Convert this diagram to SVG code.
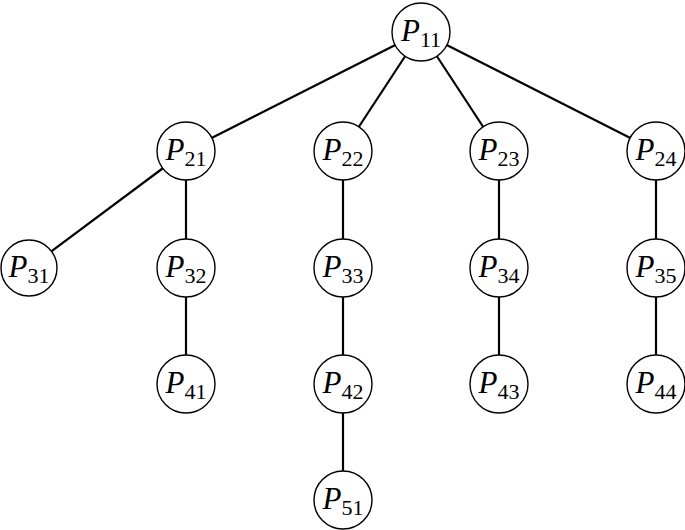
<svg xmlns="http://www.w3.org/2000/svg" width="685" height="530" viewBox="0 0 685 530">
<style>
.n circle{fill:#fff;stroke:#000;stroke-width:1.4}
.e line{stroke:#000;stroke-width:2.2}
text{font-family:"Liberation Serif",serif;fill:#000}
.p{font-style:italic;font-size:31px}
.s{font-size:22px}
</style>
<rect width="685" height="530" fill="#fff"/>
<g id="edges" class="e">
<line x1="421" y1="32" x2="186" y2="151"/>
<line x1="421" y1="32" x2="343" y2="151"/>
<line x1="421" y1="32" x2="499" y2="151"/>
<line x1="421" y1="32" x2="656" y2="151"/>
<line x1="186" y1="151" x2="29" y2="268"/>
<line x1="186" y1="151" x2="186" y2="268"/>
<line x1="343" y1="151" x2="343" y2="268"/>
<line x1="499" y1="151" x2="499" y2="268"/>
<line x1="656" y1="151" x2="656" y2="268"/>
<line x1="186" y1="268" x2="186" y2="384"/>
<line x1="343" y1="268" x2="343" y2="384"/>
<line x1="499" y1="268" x2="499" y2="384"/>
<line x1="656" y1="268" x2="656" y2="384"/>
<line x1="343" y1="384" x2="343" y2="500"/>
</g>
<g id="P11" class="n"><circle cx="421" cy="32" r="29"/><text x="421" y="41" text-anchor="middle"><tspan class="p">P</tspan><tspan class="s" dy="6">11</tspan></text></g>
<g id="P21" class="n"><circle cx="186" cy="151" r="29"/><text x="186" y="160" text-anchor="middle"><tspan class="p">P</tspan><tspan class="s" dy="6">21</tspan></text></g>
<g id="P22" class="n"><circle cx="343" cy="151" r="29"/><text x="343" y="160" text-anchor="middle"><tspan class="p">P</tspan><tspan class="s" dy="6">22</tspan></text></g>
<g id="P23" class="n"><circle cx="499" cy="151" r="29"/><text x="499" y="160" text-anchor="middle"><tspan class="p">P</tspan><tspan class="s" dy="6">23</tspan></text></g>
<g id="P24" class="n"><circle cx="656" cy="151" r="29"/><text x="656" y="160" text-anchor="middle"><tspan class="p">P</tspan><tspan class="s" dy="6">24</tspan></text></g>
<g id="P31" class="n"><circle cx="29" cy="268" r="28"/><text x="29" y="277" text-anchor="middle"><tspan class="p">P</tspan><tspan class="s" dy="6">31</tspan></text></g>
<g id="P32" class="n"><circle cx="186" cy="268" r="29"/><text x="186" y="277" text-anchor="middle"><tspan class="p">P</tspan><tspan class="s" dy="6">32</tspan></text></g>
<g id="P33" class="n"><circle cx="343" cy="268" r="29"/><text x="343" y="277" text-anchor="middle"><tspan class="p">P</tspan><tspan class="s" dy="6">33</tspan></text></g>
<g id="P34" class="n"><circle cx="499" cy="268" r="29"/><text x="499" y="277" text-anchor="middle"><tspan class="p">P</tspan><tspan class="s" dy="6">34</tspan></text></g>
<g id="P35" class="n"><circle cx="656" cy="268" r="29"/><text x="656" y="277" text-anchor="middle"><tspan class="p">P</tspan><tspan class="s" dy="6">35</tspan></text></g>
<g id="P41" class="n"><circle cx="186" cy="384" r="29"/><text x="186" y="393" text-anchor="middle"><tspan class="p">P</tspan><tspan class="s" dy="6">41</tspan></text></g>
<g id="P42" class="n"><circle cx="343" cy="384" r="29"/><text x="343" y="393" text-anchor="middle"><tspan class="p">P</tspan><tspan class="s" dy="6">42</tspan></text></g>
<g id="P43" class="n"><circle cx="499" cy="384" r="29"/><text x="499" y="393" text-anchor="middle"><tspan class="p">P</tspan><tspan class="s" dy="6">43</tspan></text></g>
<g id="P44" class="n"><circle cx="656" cy="384" r="29"/><text x="656" y="393" text-anchor="middle"><tspan class="p">P</tspan><tspan class="s" dy="6">44</tspan></text></g>
<g id="P51" class="n"><circle cx="343" cy="500" r="29"/><text x="343" y="509" text-anchor="middle"><tspan class="p">P</tspan><tspan class="s" dy="6">51</tspan></text></g>
</svg>
